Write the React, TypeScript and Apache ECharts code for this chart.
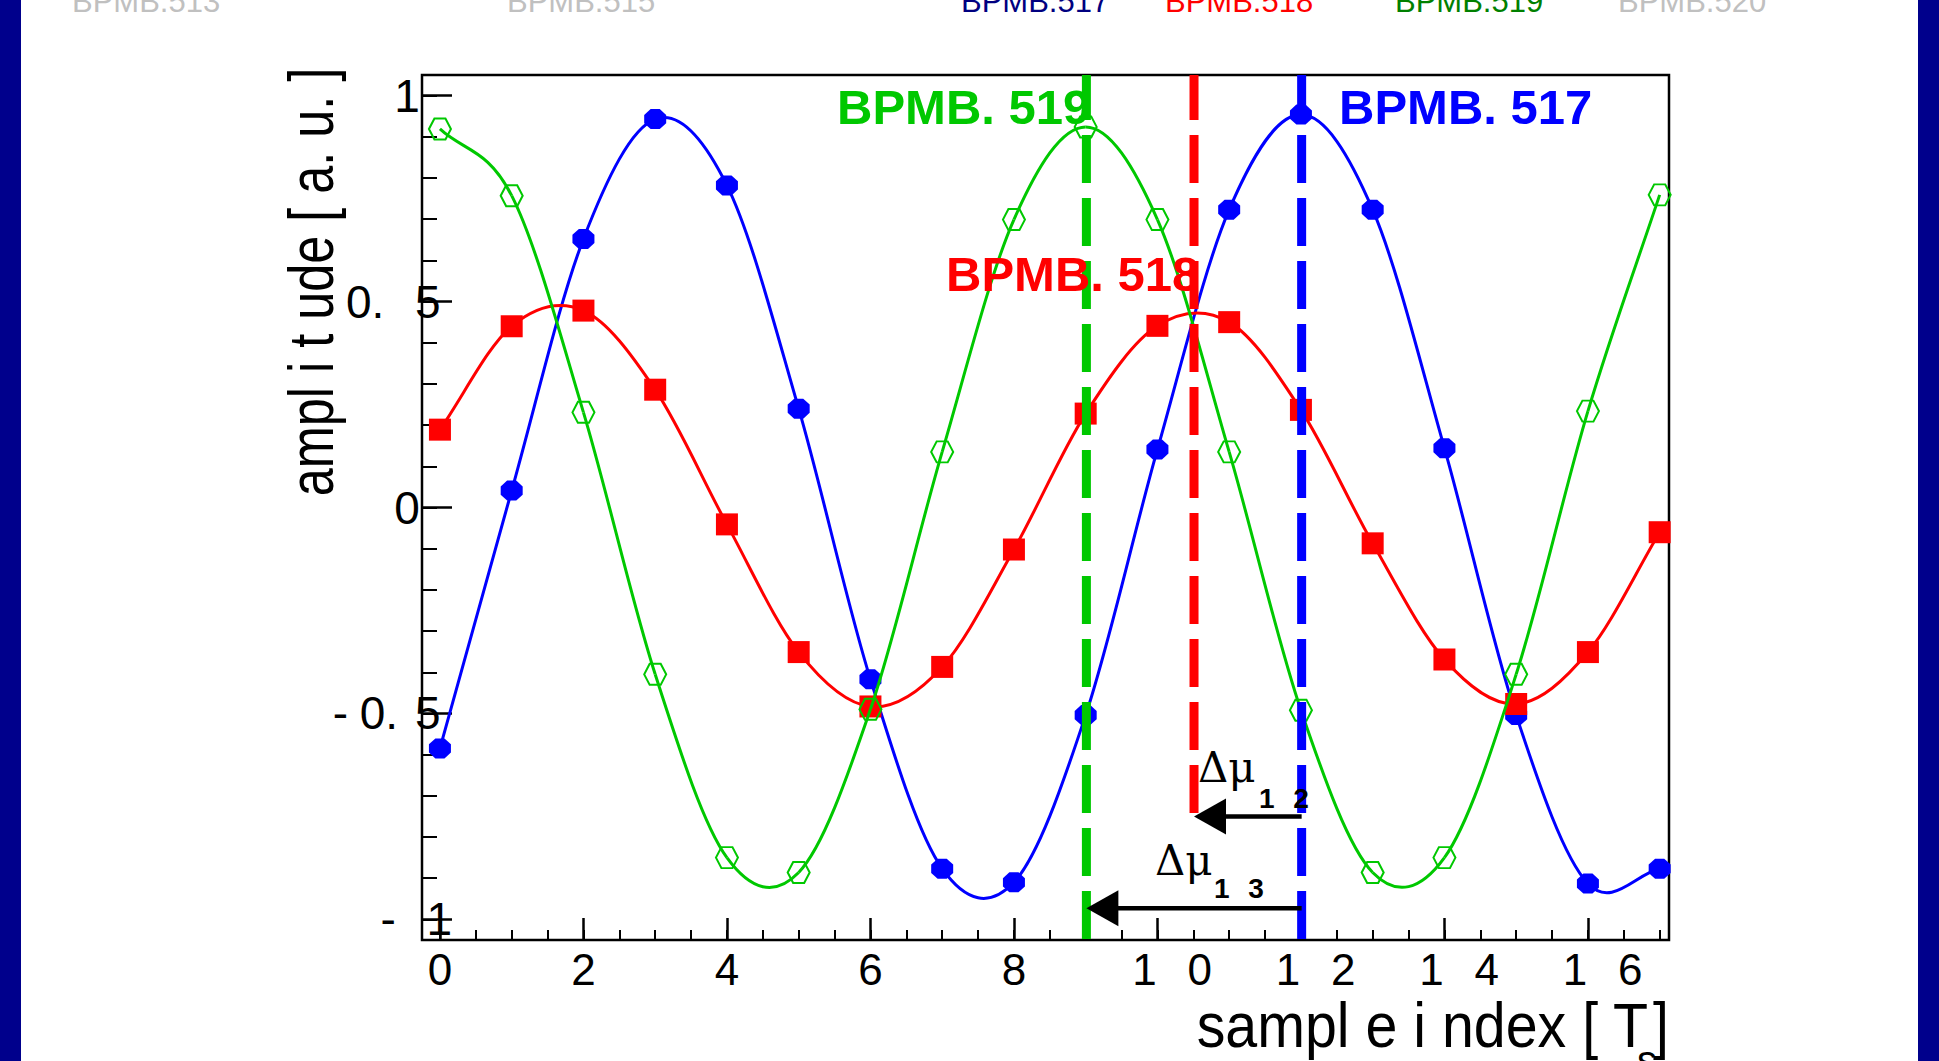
import React, { useEffect, useRef } from 'react';
import * as echarts from 'echarts';

// ---------------- data ----------------
const sampleIndex = [0, 1, 2, 3, 4, 5, 6, 7, 8, 9, 10, 11, 12, 13, 14, 15, 16, 17];
const bpmb517 = [-0.585, 0.041, 0.652, 0.943, 0.782, 0.24, -0.417, -0.877, -0.91, -0.504, 0.141, 0.723, 0.954, 0.723, 0.144, -0.504, -0.913, -0.877];
const bpmb518 = [0.189, 0.44, 0.478, 0.286, -0.041, -0.351, -0.483, -0.387, -0.102, 0.228, 0.441, 0.45, 0.237, -0.087, -0.369, -0.477, -0.351, -0.06];
const bpmb519 = [0.919, 0.757, 0.231, -0.405, -0.85, -0.886, -0.49, 0.135, 0.699, 0.924, 0.699, 0.135, -0.492, -0.886, -0.85, -0.405, 0.234, 0.759];

// phase markers (peak positions) and their labels
const phaseNames = ['BPMB. 519', 'BPMB. 518', 'BPMB. 517'];
const phaseX = [9.01, 10.51, 12.01];
const phaseYEnd = [-1.05, -0.75, -1.05];

// phase-advance arrows
const arrowFromX = [12.01, 12.01];
const arrowToX = [10.51, 9.01];
const arrowY = [-0.75, -0.973];
const arrowSubscripts = ['1 2', '1 3'];

// axes
const xMin = -0.25;
const xMax = 17.13;
const yMin = -1.05;
const yMax = 1.05;
const xMajorTicks = [0, 2, 4, 6, 8, 10, 12, 14, 16];
const xTickLabels = ['0', '2', '4', '6', '8', '1 0', '1 2', '1 4', '1 6'];
const xMinorTicks = [0, 0.5, 1, 1.5, 2, 2.5, 3, 3.5, 4, 4.5, 5, 5.5, 6, 6.5, 7, 7.5, 8, 8.5, 9, 9.5, 10, 10.5, 11, 11.5, 12, 12.5, 13, 13.5, 14, 14.5, 15, 15.5, 16, 16.5, 17];
const yMajorTicks = [-1, -0.5, 0, 0.5, 1];
const yTickLabels = ['- 1', '- 0. 5', '0', '0. 5', '1'];
const yMinorTicks = [-1, -0.9, -0.8, -0.7, -0.6, -0.5, -0.4, -0.3, -0.2, -0.1, 0, 0.1, 0.2, 0.3, 0.4, 0.5, 0.6, 0.7, 0.8, 0.9, 1];

const headerLabels = ['BPMB.513', 'BPMB.515', 'BPMB.517', 'BPMB.518', 'BPMB.519', 'BPMB.520'];

// ---------------- styles ----------------
const SANS = 'Liberation Sans';
const BLUE = '#0000ff';
const RED = '#ff0000';
const GREEN = '#00c800';
const phaseColors = [GREEN, RED, BLUE];
const headerColors = ['#c0c0c0', '#c0c0c0', '#000080', '#ff0000', '#008000', '#c0c0c0'];
const headerX = [72, 507, 961, 1165, 1395, 1618];

const EN = '\u2002';
const THIN = '\u2009';
const FOUR = '\u2005';
const SIX = '\u2006';

const xLabelDisplay: Record<string, string> = {
  '1 0': EN + SIX + '1' + EN + THIN + '0',
  '1 2': EN + SIX + '1' + EN + THIN + '2',
  '1 4': EN + SIX + '1' + EN + THIN + '4',
  '1 6': EN + SIX + '1' + EN + THIN + '6',
};
const yLabelDisplay: Record<string, string> = {
  '1': '1' + EN + THIN,
  '0': '0' + EN + THIN,
  '0. 5': '0.' + EN + SIX + '5' + FOUR,
  '- 0. 5': '-' + FOUR + '0.' + THIN + SIX + '5' + FOUR,
  '- 1': '-' + EN + SIX + '1',
};

const OCTAGON = 'path://M-0.414,-1L0.414,-1L1,-0.414L1,0.414L0.414,1L-0.414,1L-1,0.414L-1,-0.414Z';
const HEXAGON = 'path://M-1,0L-0.5,-0.866L0.5,-0.866L1,0L0.5,0.866L-0.5,0.866Z';

function findLabel(v: number, ticks: number[], labels: string[]) {
  for (let i = 0; i < ticks.length; i++) {
    if (Math.abs(ticks[i] - v) < 1e-6) return labels[i];
  }
  return '';
}

function gText(
  text: string,
  x: number,
  baseline: number,
  size: number,
  color: string,
  opts: { weight?: string; family?: string; align?: string; scaleX?: number; rotation?: number } = {}
) {
  return {
    type: 'text',
    x,
    y: baseline - 0.35 * size,
    z: 100,
    silent: true,
    scaleX: opts.scaleX ?? 1,
    rotation: opts.rotation ?? 0,
    style: {
      text,
      fill: color,
      fontSize: size,
      fontWeight: opts.weight ?? 'normal',
      fontFamily: opts.family ?? SANS,
      align: opts.align ?? 'left',
      verticalAlign: 'middle',
    },
  };
}

// smooth curve through the measured samples (Catmull-Rom segments in pixel space)
function curveSeries(vals: number[], color: string, z: number) {
  return {
    type: 'custom', xAxisIndex: 0, yAxisIndex: 0, silent: true, clip: true, z,
    data: sampleIndex.map((x, i) => [x, vals[i]]),
    renderItem: (params: any, api: any) => {
      const i = params.dataIndex;
      const n = sampleIndex.length;
      if (i >= n - 1) return null;
      const P = (k: number): number[] => {
        if (k < 0) {
          const a = api.coord([sampleIndex[0], vals[0]]);
          const b = api.coord([sampleIndex[1], vals[1]]);
          return [2 * a[0] - b[0], 2 * a[1] - b[1]];
        }
        if (k > n - 1) {
          const a = api.coord([sampleIndex[n - 1], vals[n - 1]]);
          const b = api.coord([sampleIndex[n - 2], vals[n - 2]]);
          return [2 * a[0] - b[0], 2 * a[1] - b[1]];
        }
        return api.coord([sampleIndex[k], vals[k]]);
      };
      const p0 = P(i - 1);
      const p1 = P(i);
      const p2 = P(i + 1);
      const p3 = P(i + 2);
      return {
        type: 'bezierCurve',
        shape: {
          x1: p1[0], y1: p1[1],
          x2: p2[0], y2: p2[1],
          cpx1: p1[0] + (p2[0] - p0[0]) / 6, cpy1: p1[1] + (p2[1] - p0[1]) / 6,
          cpx2: p2[0] - (p3[0] - p1[0]) / 6, cpy2: p2[1] - (p3[1] - p1[1]) / 6,
        },
        style: { stroke: color, lineWidth: 3, fill: null },
      };
    },
  };
}

function markerSeries(vals: number[], symbol: string, size: any, itemStyle: any, z: number) {
  return {
    type: 'scatter', xAxisIndex: 0, yAxisIndex: 0, silent: true, z,
    data: sampleIndex.map((x, i) => [x, vals[i]]),
    symbol, symbolSize: size,
    itemStyle: { opacity: 1, ...itemStyle },
  };
}

function buildOption() {
  const graphic: any[] = [
    { type: 'rect', z: 100, silent: true, shape: { x: 0, y: 0, width: 21, height: 1061 }, style: { fill: '#00008c' } },
    { type: 'rect', z: 100, silent: true, shape: { x: 1918, y: 0, width: 21, height: 1061 }, style: { fill: '#00008c' } },
  ];
  headerLabels.forEach((t, i) => graphic.push(gText(t, headerX[i], 12, 31, headerColors[i])));

  // in-plot labels
  graphic.push(gText(phaseNames[0], 837, 124, 49, GREEN, { weight: 'bold' }));
  graphic.push(gText(phaseNames[1], 946, 291, 49, RED, { weight: 'bold' }));
  graphic.push(gText(phaseNames[2], 1339, 124, 49, BLUE, { weight: 'bold' }));

  // delta mu labels
  graphic.push(gText('Δμ', 1198, 782, 42, '#000', { family: 'DejaVu Serif' }));
  graphic.push(gText(arrowSubscripts[0].replace(' ', EN + SIX), 1259, 808, 28, '#000', { weight: 'bold' }));
  graphic.push(gText('Δμ', 1155, 875, 42, '#000', { family: 'DejaVu Serif' }));
  graphic.push(gText(arrowSubscripts[1].replace(' ', EN + SIX), 1214, 898, 28, '#000', { weight: 'bold' }));

  // axis titles
  graphic.push(gText('sampl e i ndex [ T', 1648, 1047, 63, '#000', { align: 'right', scaleX: 0.91 }));
  graphic.push(gText('s', 1637, 1074, 40, '#000'));
  graphic.push(gText(']', 1653, 1047, 63, '#000', { scaleX: 0.91 }));
  graphic.push({
    type: 'text',
    x: 311,
    y: 282,
    z: 100,
    silent: true,
    rotation: Math.PI / 2,
    scaleX: 0.8,
    style: {
      text: 'ampl i t ude [ a. u. ]',
      fill: '#000',
      fontSize: 63,
      fontFamily: SANS,
      align: 'center',
      verticalAlign: 'middle',
    },
  });

  const tickLine = (w: number) => ({ color: '#000', width: w });

  return {
    animation: false,
    backgroundColor: '#ffffff',
    textStyle: { fontFamily: SANS },
    grid: [
      {
        left: 422, top: 75, width: 1247, height: 865,
        show: true, borderColor: '#000', borderWidth: 2.5, backgroundColor: '#fff',
        containLabel: false, outerBoundsMode: 'none',
      },
      {
        left: 422, top: 75, width: 1247, height: 865,
        show: false, containLabel: false, outerBoundsMode: 'none',
      },
    ],
    xAxis: [
      {
        type: 'value', gridIndex: 0, min: xMin, max: xMax, position: 'bottom',
        axisLine: { show: false, onZero: false },
        splitLine: { show: false },
        axisTick: { show: true, inside: true, length: 22, customValues: xMajorTicks, lineStyle: tickLine(2.5) },
        axisLabel: {
          show: true, customValues: xMajorTicks, margin: 7, color: '#000', fontSize: 44, fontFamily: SANS,
          formatter: (v: number) => {
            const l = findLabel(v, xMajorTicks, xTickLabels);
            return xLabelDisplay[l] ?? l;
          },
        },
      },
      {
        type: 'value', gridIndex: 1, min: xMin, max: xMax, position: 'bottom',
        axisLine: { show: false, onZero: false },
        splitLine: { show: false },
        axisTick: { show: true, inside: true, length: 10, customValues: xMinorTicks, lineStyle: tickLine(2) },
        axisLabel: { show: false },
      },
    ],
    yAxis: [
      {
        type: 'value', gridIndex: 0, min: yMin, max: yMax, position: 'left',
        axisLine: { show: false, onZero: false },
        splitLine: { show: false },
        axisTick: { show: true, inside: true, length: 30, customValues: yMajorTicks, lineStyle: tickLine(2.5) },
        axisLabel: {
          show: true, customValues: yMajorTicks, margin: -30, color: '#000', fontSize: 46, fontFamily: SANS,
          padding: [12, 0, 0, 0],
          formatter: (v: number) => {
            const l = findLabel(v, yMajorTicks, yTickLabels);
            return yLabelDisplay[l] ?? l;
          },
        },
      },
      {
        type: 'value', gridIndex: 1, min: yMin, max: yMax, position: 'left',
        axisLine: { show: false, onZero: false },
        splitLine: { show: false },
        axisTick: { show: true, inside: true, length: 15, customValues: yMinorTicks, lineStyle: tickLine(2) },
        axisLabel: { show: false },
      },
    ],
    series: [
      curveSeries(bpmb517, BLUE, 2),
      markerSeries(bpmb517, OCTAGON, [22, 20], { color: BLUE, borderWidth: 0 }, 3),
      curveSeries(bpmb518, RED, 4),
      markerSeries(bpmb518, 'rect', 22, { color: RED, borderWidth: 0 }, 5),
      curveSeries(bpmb519, GREEN, 6),
      markerSeries(bpmb519, HEXAGON, [22, 21], { color: 'rgba(0,0,0,0)', borderColor: GREEN, borderWidth: 2 }, 7),
      {
        type: 'custom', xAxisIndex: 0, yAxisIndex: 0, silent: true, clip: false, z: 8,
        data: phaseX.map((x, i) => [x, phaseYEnd[i], i]),
        renderItem: (_params: any, api: any) => {
          const x = api.value(0);
          const yEnd = api.value(1);
          const i = api.value(2);
          const p1 = api.coord([x, yMax]);
          const p2 = api.coord([x, yEnd]);
          return {
            type: 'line',
            shape: { x1: p1[0], y1: p1[1], x2: p2[0], y2: p2[1] },
            style: { stroke: phaseColors[i], lineWidth: 9, lineDash: [48, 15], lineDashOffset: 3, fill: null },
          };
        },
      },
      {
        type: 'custom', xAxisIndex: 0, yAxisIndex: 0, silent: true, clip: false, z: 9,
        data: arrowFromX.map((x, i) => [x, arrowToX[i], arrowY[i]]),
        renderItem: (_params: any, api: any) => {
          const p1 = api.coord([api.value(0), api.value(2)]);
          const p2 = api.coord([api.value(1), api.value(2)]);
          const dir = p1[0] > p2[0] ? 1 : -1;
          const headLen = 32;
          const headHalf = 18;
          return {
            type: 'group',
            children: [
              {
                type: 'line',
                shape: { x1: p1[0], y1: p1[1], x2: p2[0] + dir * (headLen - 2), y2: p2[1] },
                style: { stroke: '#000', lineWidth: 4.5, fill: null },
              },
              {
                type: 'polygon',
                shape: {
                  points: [
                    [p2[0], p2[1]],
                    [p2[0] + dir * headLen, p2[1] - headHalf],
                    [p2[0] + dir * headLen, p2[1] + headHalf],
                  ],
                },
                style: { fill: '#000', stroke: null },
              },
            ],
          };
        },
      },
    ],
    graphic,
  };
}

export default function App() {
  const ref = useRef<HTMLDivElement>(null);
  useEffect(() => {
    if (!ref.current) return;
    const chart = echarts.init(ref.current, null, { renderer: 'svg' });
    chart.setOption(buildOption() as any);
    return () => chart.dispose();
  }, []);
  return (
    <div
      ref={ref}
      style={{ position: 'fixed', left: 0, top: 0, width: 1939, height: 1061, background: '#fff' }}
    />
  );
}
